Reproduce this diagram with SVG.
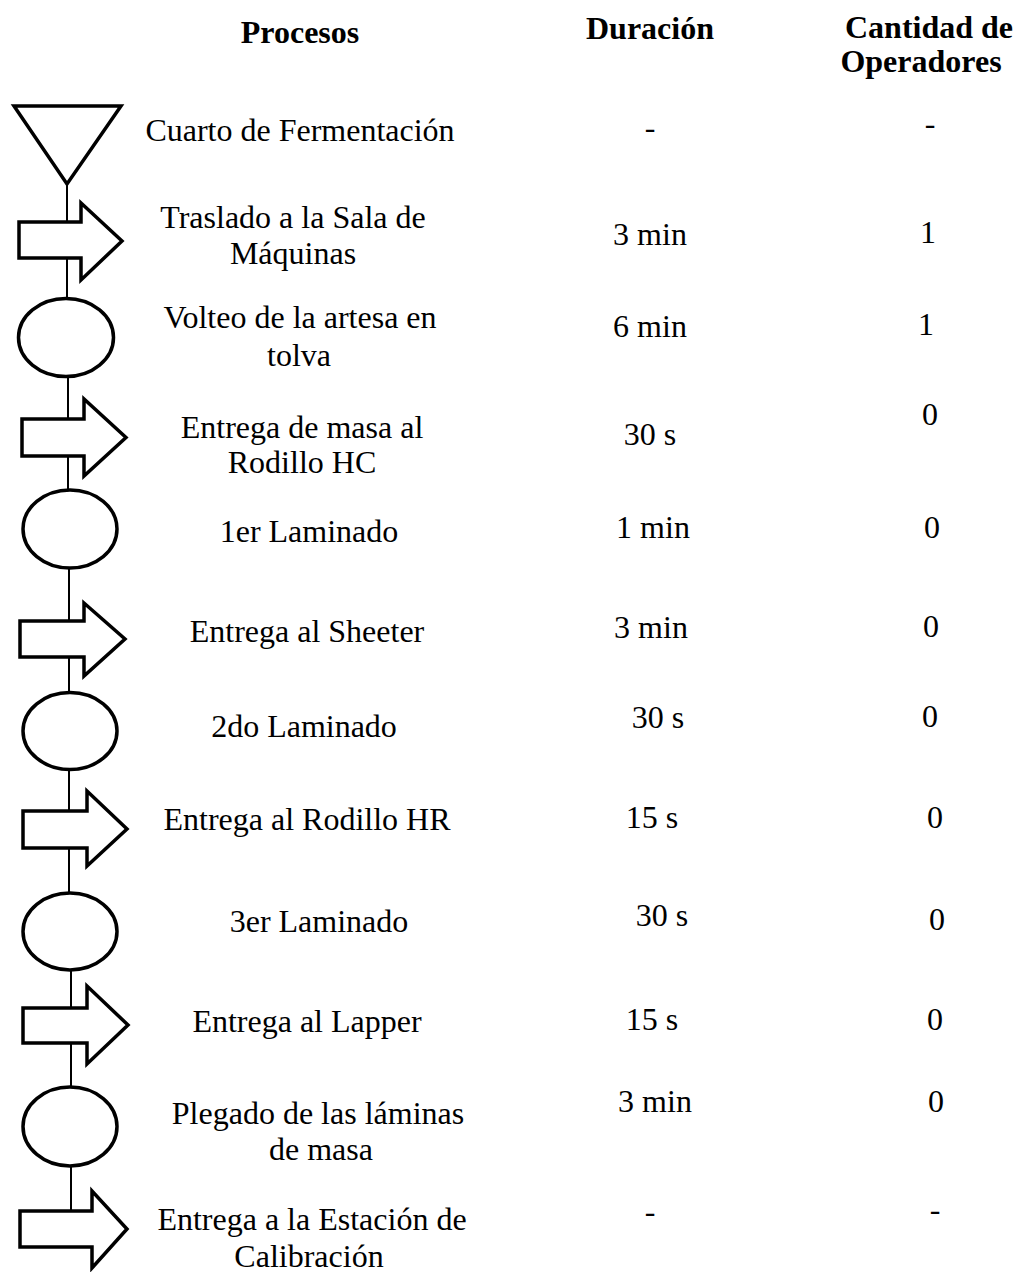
<svg xmlns="http://www.w3.org/2000/svg" width="1018" height="1272" viewBox="0 0 1018 1272">
  <style>
    text { font-family: "Liberation Serif", "Times New Roman", serif; font-size: 32px; fill: #000; text-anchor: middle; }
    .hdr { font-weight: bold; }
    .shape { fill: #fff; stroke: #000; stroke-width: 3.5; stroke-linejoin: miter; }
    .link { stroke: #000; stroke-width: 2; fill: none; }
  </style>
  <rect width="1018" height="1272" fill="#fff"/>

  <!-- column headings -->
  <g id="headings">
    <text class="hdr" x="300" y="43">Procesos</text>
    <text class="hdr" x="650" y="39">Duración</text>
    <text class="hdr" x="929" y="38">Cantidad de</text>
    <text class="hdr" x="921" y="72">Operadores</text>
  </g>

  <!-- vertical flow line between symbols -->
  <g id="connectors">
    <line class="link" x1="67" y1="185" x2="67" y2="222"/>
    <line class="link" x1="67" y1="258" x2="67" y2="298"/>
    <line class="link" x1="68" y1="378" x2="68" y2="418"/>
    <line class="link" x1="68" y1="457" x2="68" y2="490"/>
    <line class="link" x1="69" y1="568" x2="69" y2="620"/>
    <line class="link" x1="69" y1="657" x2="69" y2="693"/>
    <line class="link" x1="69" y1="770" x2="69" y2="810"/>
    <line class="link" x1="69" y1="849" x2="69" y2="893"/>
    <line class="link" x1="71" y1="970" x2="71" y2="1007"/>
    <line class="link" x1="71" y1="1043" x2="71" y2="1087"/>
    <line class="link" x1="71" y1="1166" x2="71" y2="1210"/>
  </g>

  <!-- storage -->
  <g id="n1">
    <polygon class="shape" points="14,106 121,106 67,184"/>
    <text x="300" y="141">Cuarto de Fermentación</text>
    <text x="650" y="138">-</text>
    <text x="930" y="134">-</text>
  </g>

  <!-- transport -->
  <g id="n2">
    <path class="shape" d="M19,222 H81 V203 L122,241 L81,280 V258 H19 Z"/>
    <text x="293" y="228">Traslado a la Sala de</text>
    <text x="293" y="264">Máquinas</text>
    <text x="650" y="245">3 min</text>
    <text x="928" y="243">1</text>
  </g>

  <!-- operation -->
  <g id="n3">
    <ellipse class="shape" cx="66" cy="337.5" rx="47.5" ry="39"/>
    <text x="300" y="328">Volteo de la artesa en</text>
    <text x="299" y="366">tolva</text>
    <text x="650" y="337">6 min</text>
    <text x="926" y="335">1</text>
  </g>

  <g id="n4">
    <path class="shape" d="M22,419 H84 V399 L126,437.5 L84,476 V456 H22 Z"/>
    <text x="302" y="438">Entrega de masa al</text>
    <text x="302" y="473">Rodillo HC</text>
    <text x="650" y="445">30 s</text>
    <text x="930" y="425">0</text>
  </g>

  <g id="n5">
    <ellipse class="shape" cx="70" cy="529" rx="47" ry="39"/>
    <text x="309" y="542">1er Laminado</text>
    <text x="653" y="538">1 min</text>
    <text x="932" y="538">0</text>
  </g>

  <g id="n6">
    <path class="shape" d="M20,621 H84 V603 L125,639 L84,676 V657 H20 Z"/>
    <text x="307" y="642">Entrega al Sheeter</text>
    <text x="651" y="638">3 min</text>
    <text x="931" y="637">0</text>
  </g>

  <g id="n7">
    <ellipse class="shape" cx="70" cy="731" rx="47" ry="38.5"/>
    <text x="304" y="737">2do Laminado</text>
    <text x="658" y="728">30 s</text>
    <text x="930" y="727">0</text>
  </g>

  <g id="n8">
    <path class="shape" d="M23,811 H87 V791 L127,829 L87,866 V848 H23 Z"/>
    <text x="307" y="830">Entrega al Rodillo HR</text>
    <text x="652" y="828">15 s</text>
    <text x="935" y="828">0</text>
  </g>

  <g id="n9">
    <ellipse class="shape" cx="70" cy="931.5" rx="47" ry="38.5"/>
    <text x="319" y="932">3er Laminado</text>
    <text x="662" y="926">30 s</text>
    <text x="937" y="930">0</text>
  </g>

  <g id="n10">
    <path class="shape" d="M23,1008 H87 V986 L128,1025 L87,1064 V1043 H23 Z"/>
    <text x="307" y="1032">Entrega al Lapper</text>
    <text x="652" y="1030">15 s</text>
    <text x="935" y="1030">0</text>
  </g>

  <g id="n11">
    <ellipse class="shape" cx="70" cy="1126.5" rx="47" ry="39.5"/>
    <text x="318" y="1124">Plegado de las láminas</text>
    <text x="321" y="1160">de masa</text>
    <text x="655" y="1112">3 min</text>
    <text x="936" y="1112">0</text>
  </g>

  <g id="n12">
    <path class="shape" d="M20,1211 H92 V1191 L127,1229 L92,1268 V1247 H20 Z"/>
    <text x="312" y="1230">Entrega a la Estación de</text>
    <text x="309" y="1267">Calibración</text>
    <text x="650" y="1222">-</text>
    <text x="935" y="1220">-</text>
  </g>
</svg>
